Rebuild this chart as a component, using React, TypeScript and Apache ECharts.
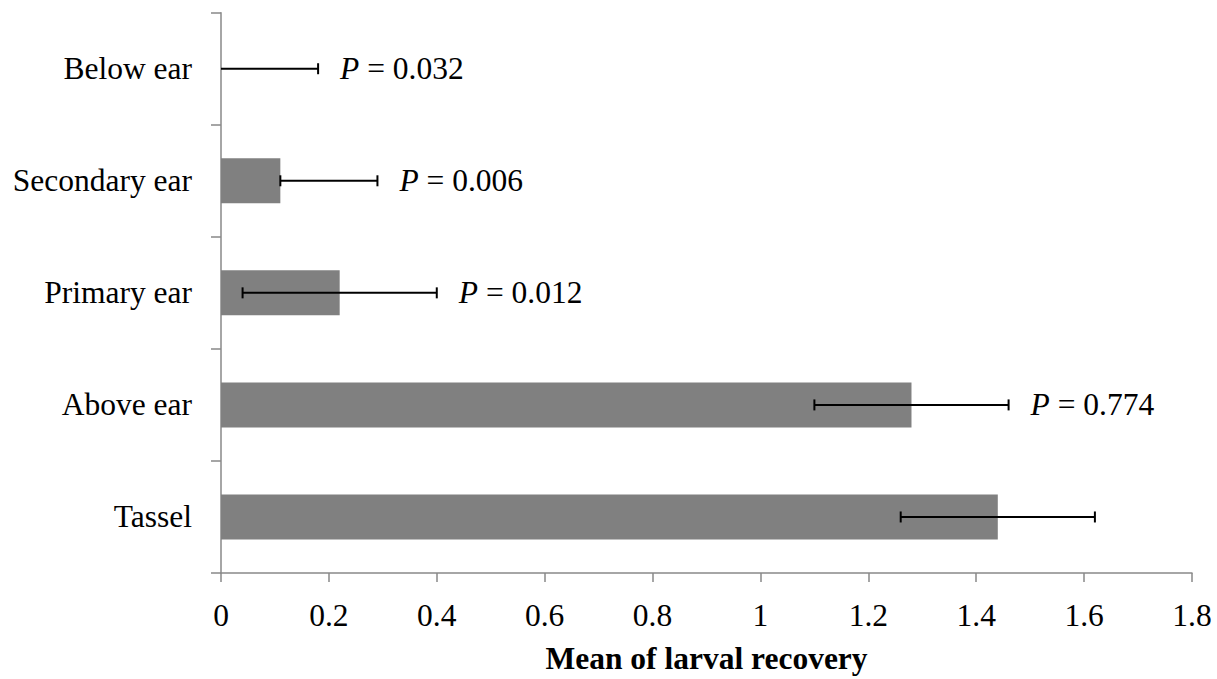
import React, { useEffect, useRef } from "react";
import * as echarts from "echarts";

const categories = ["Tassel", "Above ear", "Primary ear", "Secondary ear", "Below ear"];
const means = [1.44, 1.28, 0.22, 0.11, 0];
const errLow = [1.26, 1.1, 0.04, 0.11, 0];
const errHigh = [1.62, 1.46, 0.4, 0.29, 0.18];
const pValues = ["", "0.774", "0.012", "0.006", "0.032"];
const xTicks = { min: 0, max: 1.8, interval: 0.2 };
const xTitle = "Mean of larval recovery";

const FONT = '"Liberation Serif", "Times New Roman", serif';
const AXIS_GREY = "#898989";

export default function App() {
  const ref = useRef<HTMLDivElement>(null);
  useEffect(() => {
    if (!ref.current) return;
    const chart = echarts.init(ref.current, null, { renderer: "svg" });
    const errData = categories.map((_, i) => [errLow[i], errHigh[i], i, pValues[i]]);
    chart.setOption({
      animation: false,
      backgroundColor: "#ffffff",
      textStyle: { fontFamily: FONT },
      grid: { left: 221, right: 25, top: 12.7, bottom: 100, containLabel: false },
      xAxis: {
        type: "value",
        min: xTicks.min,
        max: xTicks.max,
        interval: xTicks.interval,
        splitLine: { show: false },
        axisLine: { show: true, lineStyle: { color: AXIS_GREY, width: 1.5 } },
        axisTick: { show: true, length: 9, lineStyle: { color: AXIS_GREY, width: 1.5 } },
        axisLabel: { color: "#000", fontSize: 31.5, fontFamily: FONT, margin: 26 },
        name: xTitle,
        nameLocation: "middle",
        nameGap: 69,
        nameTextStyle: { color: "#000", fontSize: 31.5, fontWeight: "bold", fontFamily: FONT },
      },
      yAxis: {
        type: "category",
        data: categories,
        boundaryGap: true,
        axisLine: { show: true, lineStyle: { color: AXIS_GREY, width: 1.5 } },
        axisTick: { show: true, length: 10, alignWithLabel: false, lineStyle: { color: AXIS_GREY, width: 1.5 } },
        axisLabel: { color: "#000", fontSize: 31.5, fontFamily: FONT, margin: 29 },
        splitLine: { show: false },
      },
      series: [
        {
          type: "bar",
          data: means,
          barWidth: 45,
          z: 2,
          itemStyle: { color: "#808080" },
          silent: true,
        },
        {
          type: "custom",
          clip: false,
          silent: true,
          z: 10,
          data: errData,
          encode: { x: [0, 1], y: 2 },
          renderItem: (params: any, api: any) => {
            const lo = api.value(0);
            const hi = api.value(1);
            const idx = api.value(2);
            const p = pValues[idx];
            const a = api.coord([lo, idx]);
            const b = api.coord([hi, idx]);
            const capH = 5.5;
            const style = { stroke: "#000", lineWidth: 2 };
            const children: any[] = [
              { type: "line", z2: 10, shape: { x1: a[0], y1: a[1], x2: b[0], y2: b[1] }, style },
              { type: "line", z2: 10, shape: { x1: b[0], y1: b[1] - capH, x2: b[0], y2: b[1] + capH }, style },
            ];
            if (lo > 0) {
              children.push({ type: "line", z2: 10, shape: { x1: a[0], y1: a[1] - capH, x2: a[0], y2: a[1] + capH }, style });
            }
            if (p) {
              children.push({
                type: "text",
                x: b[0] + 22,
                y: b[1],
                style: {
                  text: "{i|P} = " + p,
                  fontSize: 31.5,
                  fontFamily: FONT,
                  fill: "#000",
                  verticalAlign: "middle",
                  align: "left",
                  rich: {
                    i: { fontStyle: "italic", fontSize: 31.5, fontFamily: FONT, fill: "#000" },
                  },
                },
              });
            }
            return { type: "group", children };
          },
        },
      ],
    });
    return () => chart.dispose();
  }, []);
  return (
    <div
      ref={ref}
      style={{ position: "fixed", left: 0, top: 0, width: 1217, height: 679, background: "#fff" }}
    />
  );
}
